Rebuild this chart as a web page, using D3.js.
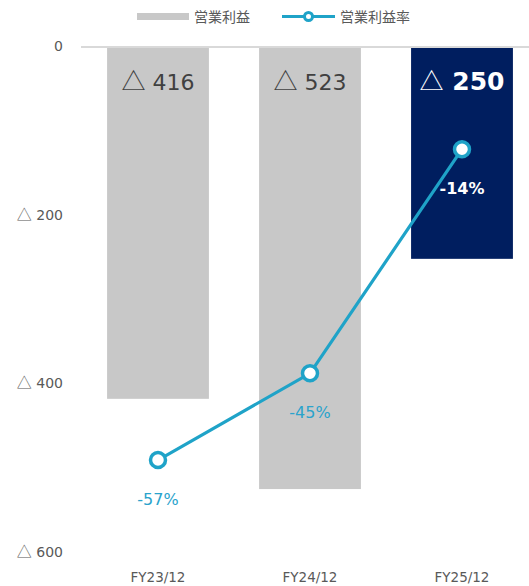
<!DOCTYPE html>
<html><head><meta charset="utf-8">
<script src="https://cdn.jsdelivr.net/npm/d3@7"></script>
<style>body{margin:0;background:#fff}svg{display:block}</style>
</head><body>
<script>
const categories = ["FY23/12", "FY24/12", "FY25/12"];
const profit = [-416, -523, -250];
const margin = [-57, -45, -14];
const yTicks = [0, -200, -400, -600];
const barLabels = ["416", "523", "250"];
const marginLabels = ["-57%", "-45%", "-14%"];

const W = 529, H = 586;
const font = "'DejaVu Sans', Verdana, 'Noto Sans CJK JP', sans-serif";
const cjk = "'Noto Sans CJK JP', sans-serif";
const svg = d3.select("body").append("svg").attr("width", W).attr("height", H);

const x = d3.scaleBand().domain(categories).range([82, 538]).paddingInner(0.33).paddingOuter(0.165);
const y = d3.scaleLinear().domain([0, -600]).range([48, 554]);
const y2 = d3.scaleLinear().domain([0, -70]).range([48, 554]);

// y axis labels
const yAxis = d3.axisLeft(y).tickValues(yTicks).tickSize(0).tickPadding(0).tickFormat(() => "");
const ga = svg.append("g").attr("transform", "translate(63,-2)").call(yAxis);
ga.select(".domain").remove();
ga.selectAll(".tick text").each(function(d) {
  const t = d3.select(this).attr("font-family", font).attr("font-size", 14).attr("fill", "#595959");
  if (d === 0) { t.text("0"); return; }
  t.append("tspan").attr("font-family", cjk).attr("font-size", 15).text("△");
  t.append("tspan").text(" " + Math.abs(d));
});

// bars
svg.selectAll("rect.bar").data(profit).join("rect").attr("class", "bar")
  .attr("x", (d, i) => x(categories[i])).attr("width", x.bandwidth())
  .attr("y", y(0)).attr("height", d => y(d) - y(0))
  .attr("fill", (d, i) => i === 2 ? "#001e5f" : "#c8c8c8");

// baseline
svg.append("line").attr("x1", 81).attr("x2", W).attr("y1", y(0) - 1).attr("y2", y(0) - 1)
  .attr("stroke", "#d9d9d9").attr("stroke-width", 2);

// bar labels
svg.selectAll("text.bl").data(barLabels).join("text").attr("class", "bl")
  .attr("x", (d, i) => x(categories[i]) + x.bandwidth() / 2).attr("y", 90)
  .attr("text-anchor", "middle").attr("font-family", font)
  .attr("font-size", (d, i) => i === 2 ? 25 : 22)
  .attr("font-weight", (d, i) => i === 2 ? "bold" : "normal")
  .attr("fill", (d, i) => i === 2 ? "#ffffff" : "#404040")
  .each(function(d) {
    const t = d3.select(this);
    t.append("tspan").attr("font-family", cjk).attr("font-weight", "normal").attr("font-size", 24).text("△");
    t.append("tspan").text(" " + d);
  });

// line
const lc = "#1fa3c8";
const line = d3.line().x((d, i) => x(categories[i]) + x.bandwidth() / 2).y(d => y2(d));
svg.append("path").datum(margin).attr("d", line).attr("fill", "none")
  .attr("stroke", lc).attr("stroke-width", 3.2);
svg.selectAll("circle.pt").data(margin).join("circle").attr("class", "pt")
  .attr("cx", (d, i) => x(categories[i]) + x.bandwidth() / 2).attr("cy", d => y2(d))
  .attr("r", 7.5).attr("fill", "#fff").attr("stroke", lc).attr("stroke-width", 3.5);

svg.selectAll("text.ml").data(marginLabels).join("text").attr("class", "ml")
  .attr("x", (d, i) => x(categories[i]) + x.bandwidth() / 2)
  .attr("y", (d, i) => y2(margin[i]) + 45)
  .attr("text-anchor", "middle").attr("font-family", font).attr("font-size", 16)
  .attr("font-weight", (d, i) => i === 2 ? "bold" : "normal")
  .attr("fill", (d, i) => i === 2 ? "#ffffff" : "#2aa3cc")
  .text(d => d);

// x labels
svg.selectAll("text.xl").data(categories).join("text").attr("class", "xl")
  .attr("x", d => x(d) + x.bandwidth() / 2).attr("y", 582)
  .attr("text-anchor", "middle").attr("font-family", font).attr("font-size", 13.5)
  .attr("fill", "#595959").text(d => d);

// legend
const lg = svg.append("g");
lg.append("rect").attr("x", 137).attr("y", 13).attr("width", 52).attr("height", 7).attr("fill", "#c8c8c8");
lg.append("text").attr("x", 194).attr("y", 22).attr("font-family", cjk)
  .attr("font-size", 14).attr("fill", "#595959").text("営業利益");
lg.append("line").attr("x1", 282).attr("x2", 335).attr("y1", 16.5).attr("y2", 16.5)
  .attr("stroke", lc).attr("stroke-width", 3.2);
lg.append("circle").attr("cx", 308.5).attr("cy", 16.5).attr("r", 4).attr("fill", "#fff")
  .attr("stroke", lc).attr("stroke-width", 3);
lg.append("text").attr("x", 340).attr("y", 22).attr("font-family", cjk)
  .attr("font-size", 14).attr("fill", "#595959").text("営業利益率");
</script>
</body></html>
